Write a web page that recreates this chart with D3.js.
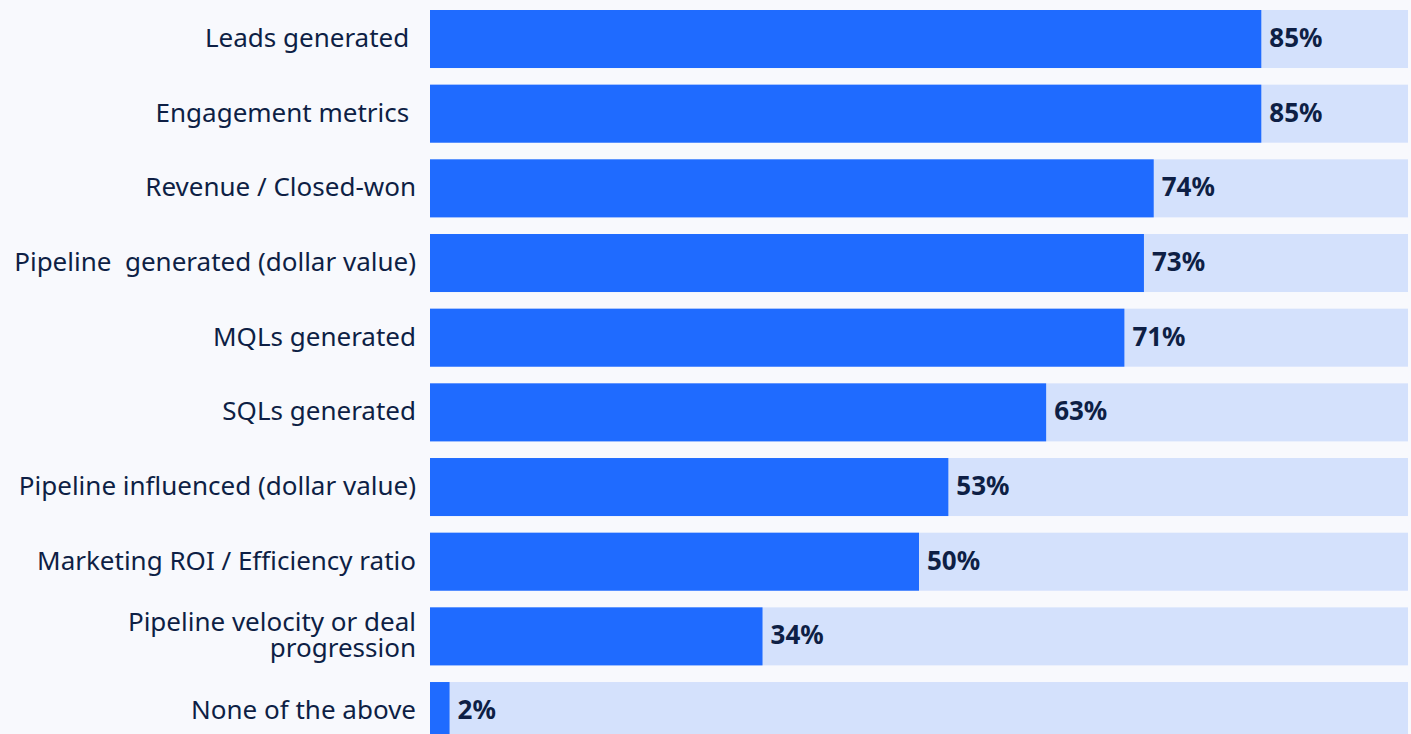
<!DOCTYPE html>
<html><head><meta charset="utf-8">
<script src="https://cdn.jsdelivr.net/npm/d3@7"></script>
<style>
html,body{margin:0;padding:0;background:#f8f9fd;}
svg{display:block;}
text{white-space:pre;}
</style></head>
<body>
<script>
const categories = [
  "Leads generated ",
  "Engagement metrics ",
  "Revenue / Closed-won",
  "Pipeline  generated (dollar value)",
  "MQLs generated",
  "SQLs generated",
  "Pipeline influenced (dollar value)",
  "Marketing ROI / Efficiency ratio",
  "Pipeline velocity or deal\nprogression",
  "None of the above"
];
const values = [85, 85, 74, 73, 71, 63, 53, 50, 34, 2];
const valueLabels = ["85%", "85%", "74%", "73%", "71%", "63%", "53%", "50%", "34%", "2%"];

const W = 1411, H = 734;
const svg = d3.select("body").append("svg").attr("width", W).attr("height", H);
svg.append("rect").attr("width", W).attr("height", H).attr("fill", "#f8f9fd");

const x = d3.scaleLinear().domain([0, 100]).range([430, 1408]);
const step = 74.67, pIn = 0.223;
const y0 = 10 - step * pIn / 2;
const y = d3.scaleBand().domain(d3.range(categories.length))
  .range([y0, y0 + step * categories.length]).paddingInner(pIn).paddingOuter(pIn / 2);

const g = svg.append("g");
const rows = g.selectAll("g.row").data(values).join("g").attr("class", "row");

rows.append("rect")
  .attr("x", x(0)).attr("y", (d, i) => y(i))
  .attr("width", x(100) - x(0)).attr("height", y.bandwidth())
  .attr("fill", "#d4e1fc");

rows.append("rect")
  .attr("x", x(0)).attr("y", (d, i) => y(i))
  .attr("width", d => x(d) - x(0)).attr("height", y.bandwidth())
  .attr("fill", "#1f6bff");

rows.append("text")
  .attr("x", d => x(d) + 8)
  .attr("y", (d, i) => y(i) + y.bandwidth() / 2 - 1)
  .attr("dy", "0.35em")
  .attr("font-family", "'Noto Sans', sans-serif")
  .attr("font-weight", 700)
  .attr("font-size", 26)
  .attr("fill", "#0e1f45")
  .text((d, i) => valueLabels[i]);

const labels = g.selectAll("text.cat").data(categories).join("text").attr("class", "cat")
  .attr("x", 416)
  .attr("text-anchor", "end")
  .attr("font-family", "'Noto Sans', sans-serif")
  .attr("font-size", 26)
  .attr("fill", "#0e1f45")
  .each(function(d, i) {
    const lines = d.split("\n");
    const cy = y(i) + y.bandwidth() / 2 - 1;
    const lh = 26;
    const t = d3.select(this);
    lines.forEach((ln, k) => {
      t.append("tspan").attr("x", 416)
        .attr("y", cy + (k - (lines.length - 1) / 2) * lh)
        .attr("dy", "0.35em")
        .text(ln);
    });
  });
</script>
</body></html>
